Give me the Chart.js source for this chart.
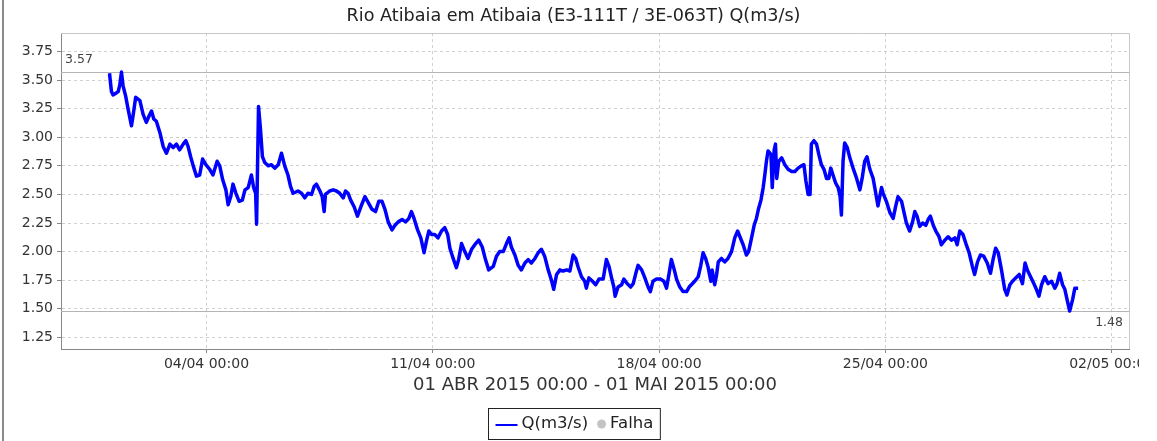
<!DOCTYPE html>
<html><head><meta charset="utf-8">
<script src="https://cdn.jsdelivr.net/npm/chart.js@4.4.1/dist/chart.umd.min.js"></script>
<style>html,body{margin:0;padding:0;background:#fff;} #wrap{position:relative;width:1157px;height:441px;}</style>
</head><body><div id="wrap"><canvas id="c" width="1157" height="441"></canvas></div>
<script>
const chartTitle = 'Rio Atibaia em Atibaia (E3-111T / 3E-063T) Q(m3/s)';
const xAxisTitle = '01 ABR 2015 00:00 - 01 MAI 2015 00:00';
const seriesName = 'Q(m3/s)';
const failName = 'Falha';
// time in days since 01/04/2015 00:00
const times = [
0.00,0.06,0.11,0.22,0.27,0.32,0.37,0.42,0.50,0.58,0.68,0.73,0.81,0.94,1.04,1.14,1.23,1.30,1.37,1.45,
1.56,1.66,1.76,1.87,1.97,2.07,2.17,2.28,2.36,2.43,2.51,2.59,2.69,2.79,2.88,2.98,3.10,3.20,3.33,3.41,
3.50,3.60,3.67,3.75,3.82,3.91,4.01,4.11,4.19,4.29,4.39,4.46,4.52,4.55,4.61,4.67,4.73,4.80,4.91,5.01,
5.11,5.22,5.32,5.42,5.52,5.60,5.68,5.83,5.94,6.04,6.14,6.25,6.33,6.40,6.51,6.58,6.64,6.68,6.81,6.92,
7.02,7.12,7.23,7.30,7.38,7.46,7.57,7.67,7.80,7.90,8.00,8.12,8.23,8.33,8.43,8.52,8.62,8.74,8.83,8.93,
9.05,9.16,9.26,9.34,9.42,9.53,9.63,9.73,9.81,9.88,9.96,10.06,10.16,10.27,10.37,10.46,10.53,10.63,10.73,10.80,
10.89,10.99,11.09,11.20,11.30,11.42,11.53,11.63,11.73,11.87,11.97,12.07,12.18,12.28,12.36,12.43,12.54,12.64,12.74,12.85,
12.95,13.05,13.16,13.26,13.36,13.46,13.57,13.67,13.74,13.83,13.93,14.03,14.14,14.24,14.34,14.42,14.49,14.60,14.70,14.75,
14.83,14.94,15.04,15.14,15.27,15.37,15.45,15.53,15.60,15.64,15.73,15.84,15.91,16.01,16.12,16.20,16.28,16.35,16.46,16.56,
16.66,16.73,16.81,16.92,17.04,17.15,17.23,17.31,17.38,17.47,17.54,17.64,17.74,17.85,17.93,18.00,18.10,18.21,18.29,18.36,
18.44,18.52,18.60,18.64,18.72,18.78,18.83,18.93,19.03,19.13,19.24,19.34,19.43,19.50,19.60,19.70,19.77,19.86,19.94,20.01,
20.08,20.15,20.22,20.27,20.32,20.37,20.46,20.50,20.56,20.60,20.64,20.70,20.79,20.89,20.99,21.10,21.20,21.30,21.40,21.48,
21.54,21.61,21.67,21.71,21.79,21.87,21.94,22.02,22.10,22.18,22.25,22.31,22.38,22.46,22.54,22.60,22.64,22.69,22.74,22.82,
22.90,23.00,23.11,23.21,23.28,23.36,23.43,23.52,23.62,23.69,23.77,23.88,23.93,24.03,24.14,24.24,24.32,24.39,24.50,24.57,
24.65,24.75,24.84,24.91,24.98,25.06,25.15,25.25,25.32,25.39,25.48,25.56,25.66,25.73,25.84,25.94,26.04,26.15,26.22,26.30,
26.40,26.49,26.59,26.69,26.76,26.85,26.94,27.04,27.15,27.25,27.33,27.41,27.49,27.59,27.69,27.76,27.85,27.93,28.03,28.14,
28.24,28.32,28.39,28.49,28.59,28.67,28.75,28.83,28.93,29.03,29.14,29.24,29.31,29.39,29.48,29.55,29.62,29.70,29.79,29.86,
29.96
];
const flow = [
3.56,3.40,3.37,3.39,3.40,3.46,3.57,3.45,3.36,3.24,3.10,3.19,3.35,3.32,3.20,3.13,3.19,3.23,3.16,3.14,
3.04,2.92,2.86,2.94,2.91,2.94,2.89,2.94,2.97,2.92,2.83,2.75,2.66,2.67,2.81,2.76,2.72,2.67,2.79,2.75,
2.63,2.54,2.41,2.48,2.59,2.51,2.44,2.45,2.54,2.56,2.67,2.56,2.51,2.24,3.27,3.07,2.83,2.78,2.75,2.76,
2.73,2.76,2.86,2.75,2.67,2.57,2.51,2.53,2.51,2.47,2.51,2.50,2.57,2.59,2.53,2.48,2.35,2.50,2.53,2.54,
2.53,2.51,2.47,2.53,2.51,2.45,2.39,2.31,2.41,2.48,2.43,2.37,2.35,2.44,2.44,2.37,2.26,2.19,2.23,2.26,
2.28,2.26,2.29,2.35,2.29,2.19,2.12,1.99,2.10,2.18,2.15,2.15,2.12,2.18,2.21,2.15,2.03,1.94,1.86,1.93,
2.07,2.00,1.94,2.02,2.06,2.10,2.04,1.93,1.84,1.87,1.96,2.00,2.00,2.07,2.12,2.04,1.97,1.88,1.84,1.90,
1.93,1.90,1.94,1.99,2.02,1.96,1.84,1.75,1.67,1.80,1.84,1.83,1.84,1.83,1.97,1.94,1.87,1.78,1.74,1.68,
1.77,1.74,1.71,1.76,1.76,1.93,1.87,1.77,1.69,1.61,1.69,1.71,1.76,1.72,1.69,1.72,1.81,1.88,1.84,1.77,
1.69,1.65,1.74,1.76,1.76,1.74,1.68,1.81,1.93,1.84,1.76,1.69,1.65,1.65,1.69,1.71,1.74,1.78,1.88,1.99,
1.94,1.86,1.74,1.84,1.71,1.80,1.91,1.94,1.91,1.94,2.00,2.12,2.18,2.13,2.06,1.97,2.00,2.12,2.23,2.29,
2.38,2.45,2.56,2.67,2.79,2.88,2.85,2.56,2.89,2.94,2.64,2.79,2.82,2.76,2.72,2.70,2.70,2.73,2.75,2.76,
2.62,2.50,2.50,2.94,2.97,2.94,2.85,2.76,2.72,2.64,2.64,2.73,2.67,2.60,2.56,2.48,2.32,2.79,2.95,2.91,
2.82,2.73,2.64,2.54,2.64,2.79,2.83,2.72,2.64,2.53,2.40,2.56,2.51,2.44,2.34,2.29,2.40,2.48,2.44,2.35,
2.25,2.18,2.26,2.35,2.31,2.22,2.25,2.23,2.28,2.31,2.23,2.18,2.13,2.06,2.10,2.13,2.10,2.12,2.06,2.18,
2.15,2.07,1.99,1.87,1.80,1.91,1.97,1.96,1.90,1.81,1.93,2.03,1.99,1.84,1.67,1.62,1.71,1.74,1.77,1.80,
1.72,1.90,1.84,1.78,1.72,1.67,1.61,1.71,1.78,1.72,1.74,1.68,1.72,1.81,1.71,1.67,1.58,1.48,1.58,1.68,
1.68
];
const xTickDays = [3, 10, 17, 24, 31];
const xTickLabels = ['04/04 00:00', '11/04 00:00', '18/04 00:00', '25/04 00:00', '02/05 00:00'];
const yTickValues = [1.25, 1.50, 1.75, 2.00, 2.25, 2.50, 2.75, 3.00, 3.25, 3.50, 3.75];
const maxMark = 3.57;
const minMark = 1.48;

const FONT = "'DejaVu Sans', sans-serif";
const points = times.map((t, i) => ({x: t, y: flow[i]}));

const decor = {
  id: 'decor',
  beforeDraw(chart) {
    const ctx = chart.ctx;
    ctx.save(); ctx.fillStyle = '#fff'; ctx.fillRect(0, 0, chart.width, chart.height); ctx.restore();
  },
  beforeDatasetsDraw(chart) {
    const {ctx, chartArea: a, scales: {y}} = chart;
    ctx.save();
    ctx.lineWidth = 1;
    ctx.strokeStyle = '#c8c8c8';
    ctx.beginPath();
    ctx.moveTo(a.left, Math.round(a.top) + 0.5);
    ctx.lineTo(Math.round(a.right) + 0.5, Math.round(a.top) + 0.5);
    ctx.lineTo(Math.round(a.right) + 0.5, a.bottom);
    ctx.stroke();
    ctx.strokeStyle = '#b4b4b4';
    [maxMark, minMark].forEach(v => {
      const py = Math.round(y.getPixelForValue(v)) + 0.5;
      ctx.beginPath(); ctx.moveTo(a.left, py); ctx.lineTo(a.right, py); ctx.stroke();
    });
    ctx.fillStyle = '#444';
    ctx.font = '12.5px ' + FONT;
    ctx.textBaseline = 'middle';
    ctx.textAlign = 'left';
    ctx.fillText(maxMark.toFixed(2), a.left + 4, y.getPixelForValue(maxMark) - 12);
    ctx.textAlign = 'right';
    ctx.fillText(minMark.toFixed(2), a.right - 6, y.getPixelForValue(minMark) + 12);
    ctx.restore();
  },
  afterDraw(chart) {
    const ctx = chart.ctx;
    ctx.save();
    // clip area on the right
    ctx.fillStyle = '#fff';
    ctx.fillRect(1139, 0, chart.width - 1139, chart.height);
    // left frame line
    ctx.fillStyle = '#8a8a8a';
    ctx.fillRect(2, 0, 2, chart.height);
    // legend
    const ds = chart.data.datasets;
    ctx.font = '16.5px ' + FONT;
    const w1 = ctx.measureText(ds[0].label).width;
    const w2 = ctx.measureText(ds[1].label).width;
    const lineLen = 22, gap = 4, gapB = 9, dot = 9, padX = 7;
    const total = padX + lineLen + gap + w1 + gapB + dot + gap + w2 + padX;
    const cx = (chart.titleBlock.left + chart.titleBlock.right) / 2;
    const left = Math.round(cx - total / 2) + 0.5;
    const top = Math.round(chart.scales.x.bottom) + 1.5;
    const h = 31;
    ctx.strokeStyle = '#222'; ctx.lineWidth = 1;
    ctx.strokeRect(left, top, total, h);
    const cy = top + h / 2;
    let x = left + padX;
    ctx.strokeStyle = ds[0].borderColor; ctx.lineWidth = 2;
    ctx.beginPath(); ctx.moveTo(x, cy + 1); ctx.lineTo(x + lineLen, cy + 1); ctx.stroke();
    x += lineLen + gap;
    ctx.fillStyle = '#222'; ctx.textBaseline = 'middle'; ctx.textAlign = 'left';
    ctx.fillText(ds[0].label, x, cy);
    x += w1 + gapB;
    ctx.fillStyle = ds[1].backgroundColor;
    ctx.beginPath(); ctx.arc(x + dot / 2, cy, dot / 2, 0, Math.PI * 2); ctx.fill();
    x += dot + gap;
    ctx.fillStyle = '#222';
    ctx.fillText(ds[1].label, x, cy);
    ctx.restore();
  }
};

new Chart(document.getElementById('c'), {
  type: 'line',
  data: {
    datasets: [
      {label: seriesName, data: points, borderColor: '#0000ff', borderWidth: 3.5, pointRadius: 0,
       tension: 0, borderJoinStyle: 'round', xAxisID: 'x', yAxisID: 'y'},
      {label: failName, data: [], borderColor: '#c4c4c4', backgroundColor: '#c4c4c4', showLine: false,
       pointRadius: 4, xAxisID: 'x', yAxisID: 'y'}
    ]
  },
  options: {
    responsive: false,
    animation: false,
    parsing: false,
    layout: {padding: {left: 0, right: 10, top: 0, bottom: 34}},
    plugins: {
      legend: {display: false},
      tooltip: {enabled: false},
      title: {display: true, text: chartTitle, color: '#222',
              font: {family: FONT, size: 17.6, weight: 'normal'}, padding: {top: 6, bottom: 6}}
    },
    scales: {
      x: {
        type: 'linear', min: -1.5, max: 31.535,
        afterBuildTicks(s) { s.ticks = xTickDays.map(v => ({value: v})); },
        afterFit(s) { s.height = 58; s.paddingLeft = 0; s.paddingRight = 0; },
        ticks: {autoSkip: false, maxRotation: 0, padding: 3, color: '#333',
                font: {family: FONT, size: 14},
                callback: v => xTickLabels[xTickDays.indexOf(v)]},
        grid: {color: '#d0d0d0', tickLength: 4, tickColor: '#888', drawTicks: true},
        border: {display: true, color: '#888', width: 1, dash: [3, 3]},
        title: {display: true, text: xAxisTitle, color: '#333',
                font: {family: FONT, size: 18}, padding: {top: 0, bottom: 11}}
      },
      y: {
        type: 'linear', position: 'left', min: 1.148, max: 3.911,
        afterBuildTicks(s) { s.ticks = yTickValues.map(v => ({value: v})); },
        afterFit(s) { s.width = 61; },
        ticks: {padding: 4, color: '#333', font: {family: FONT, size: 14},
                callback: v => v.toFixed(2)},
        grid: {color: '#d0d0d0', tickLength: 4, tickColor: '#888', drawTicks: true},
        border: {display: true, color: '#888', width: 1, dash: [3, 3]}
      },
      yR: {
        type: 'linear', position: 'right', display: true,
        grid: {display: false, drawTicks: false}, border: {display: false},
        ticks: {display: false},
        afterFit(s) { s.width = 18; }
      }
    }
  },
  plugins: [decor]
});
</script>
</body></html>
